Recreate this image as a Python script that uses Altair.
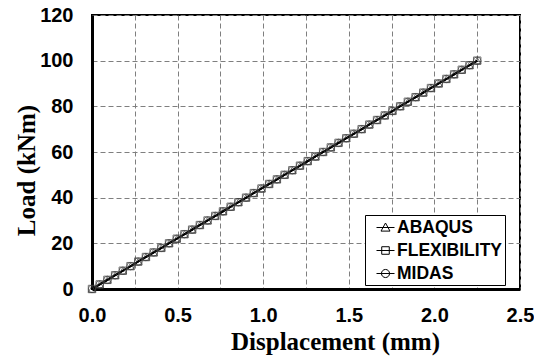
import altair as alt
import pandas as pd

series = ["ABAQUS", "FLEXIBILITY", "MIDAS"]
load = [0, 2, 4, 6, 8, 10, 12, 14, 16, 18, 20, 22, 24, 26, 28, 30, 32, 34, 36, 38, 40,
        42, 44, 46, 48, 50, 52, 54, 56, 58, 60, 62, 64, 66, 68, 70, 72, 74, 76, 78, 80,
        82, 84, 86, 88, 90, 92, 94, 96, 98, 100]
disp = [0.000, 0.045, 0.090, 0.135, 0.180, 0.225, 0.270, 0.315, 0.360, 0.405, 0.450,
        0.495, 0.540, 0.585, 0.630, 0.675, 0.720, 0.765, 0.810, 0.855, 0.900, 0.945,
        0.990, 1.035, 1.080, 1.125, 1.170, 1.215, 1.260, 1.305, 1.350, 1.395, 1.440,
        1.485, 1.530, 1.575, 1.620, 1.665, 1.710, 1.755, 1.800, 1.845, 1.890, 1.935,
        1.980, 2.025, 2.070, 2.115, 2.160, 2.205, 2.250]
x_ticks = [0, 0.25, 0.5, 0.75, 1.0, 1.25, 1.5, 1.75, 2.0, 2.25, 2.5]
y_ticks = [0, 20, 40, 60, 80, 100, 120]

rows = []
for s in series:
    for d, l in zip(disp, load):
        rows.append({"series": s, "disp": d, "load": l})
df = pd.DataFrame(rows)

sans = "Liberation Sans"
serif = "Liberation Serif"

x = alt.X("disp:Q", scale=alt.Scale(domain=[0, 2.5], nice=False),
          axis=alt.Axis(values=x_ticks, title="Displacement (mm)",
                        labelExpr="round(datum.value*4) % 2 == 0 ? format(datum.value, '.1f') : ''",
                        labelFont=sans, labelFontSize=20, labelFontWeight="bold", labelColor="black",
                        labelPadding=16, labelOverlap=False, labelFlush=False,
                        titleFont=serif, titleFontSize=25, titleFontWeight="bold", titleColor="black",
                        titlePadding=4, titleX=243, ticks=False, grid=True))
y = alt.Y("load:Q", scale=alt.Scale(domain=[0, 120], nice=False),
          axis=alt.Axis(values=y_ticks, title="Load (kNm)",
                        labelFont=sans, labelFontSize=20, labelFontWeight="bold", labelColor="black",
                        labelPadding=19, labelOverlap=False, labelFlush=False,
                        titleFont=serif, titleFontSize=25, titleFontWeight="bold", titleColor="black",
                        titlePadding=0, titleY=155, ticks=False, grid=True))

line = alt.Chart(df).mark_line(color="black", strokeWidth=1.8).encode(x=x, y=y, detail="series:N")

pts = alt.Chart(df).mark_point(filled=False, size=55, strokeWidth=1, color="#3a3a3a").encode(
    x=x, y=y,
    shape=alt.Shape("series:N", scale=alt.Scale(domain=series, range=["triangle-up", "square", "circle"]),
                    legend=None))

paths = [
    "M-1,0H1M0,-0.5L0.5,0.4H-0.5Z",
    "M-1,0H1M-0.42,-0.42H0.42V0.42H-0.42Z",
    "M-1,0H1M0.45,0A0.45,0.45,0,1,1,-0.45,0A0.45,0.45,0,1,1,0.45,0Z",
]
leg = alt.Chart(df).mark_point(filled=False, opacity=0, color="black", strokeWidth=1).encode(
    x=x, y=y,
    shape=alt.Shape("series:N", scale=alt.Scale(domain=series, range=paths),
                    legend=alt.Legend(title=None, orient="none", legendX=273, legendY=200,
                                      strokeColor="black", fillColor="white", padding=3,
                                      cornerRadius=0, symbolSize=324, symbolOpacity=1,
                                      symbolStrokeColor="black", symbolStrokeWidth=1,
                                      symbolOffset=8, labelOffset=2, rowPadding=5,
                                      labelExpr="datum.label + '\u2007'",
                                      labelFont=sans, labelFontSize=17.5, labelFontWeight="bold",
                                      labelColor="black")))

chart = alt.layer(line, pts, leg).resolve_scale(shape="independent").properties(
    width=428, height=274,
    autosize=alt.AutoSizeParams(type="none"),
    padding={"left": 84, "top": 7, "right": 14, "bottom": 69},
).configure_view(stroke="black", strokeWidth=2).configure_axis(
    domainColor="black", domainWidth=3, gridColor="#7f7f7f", gridDash=[5, 3], gridWidth=1
)

chart.save("out.html", embed_options={"renderer": "svg", "actions": False})
